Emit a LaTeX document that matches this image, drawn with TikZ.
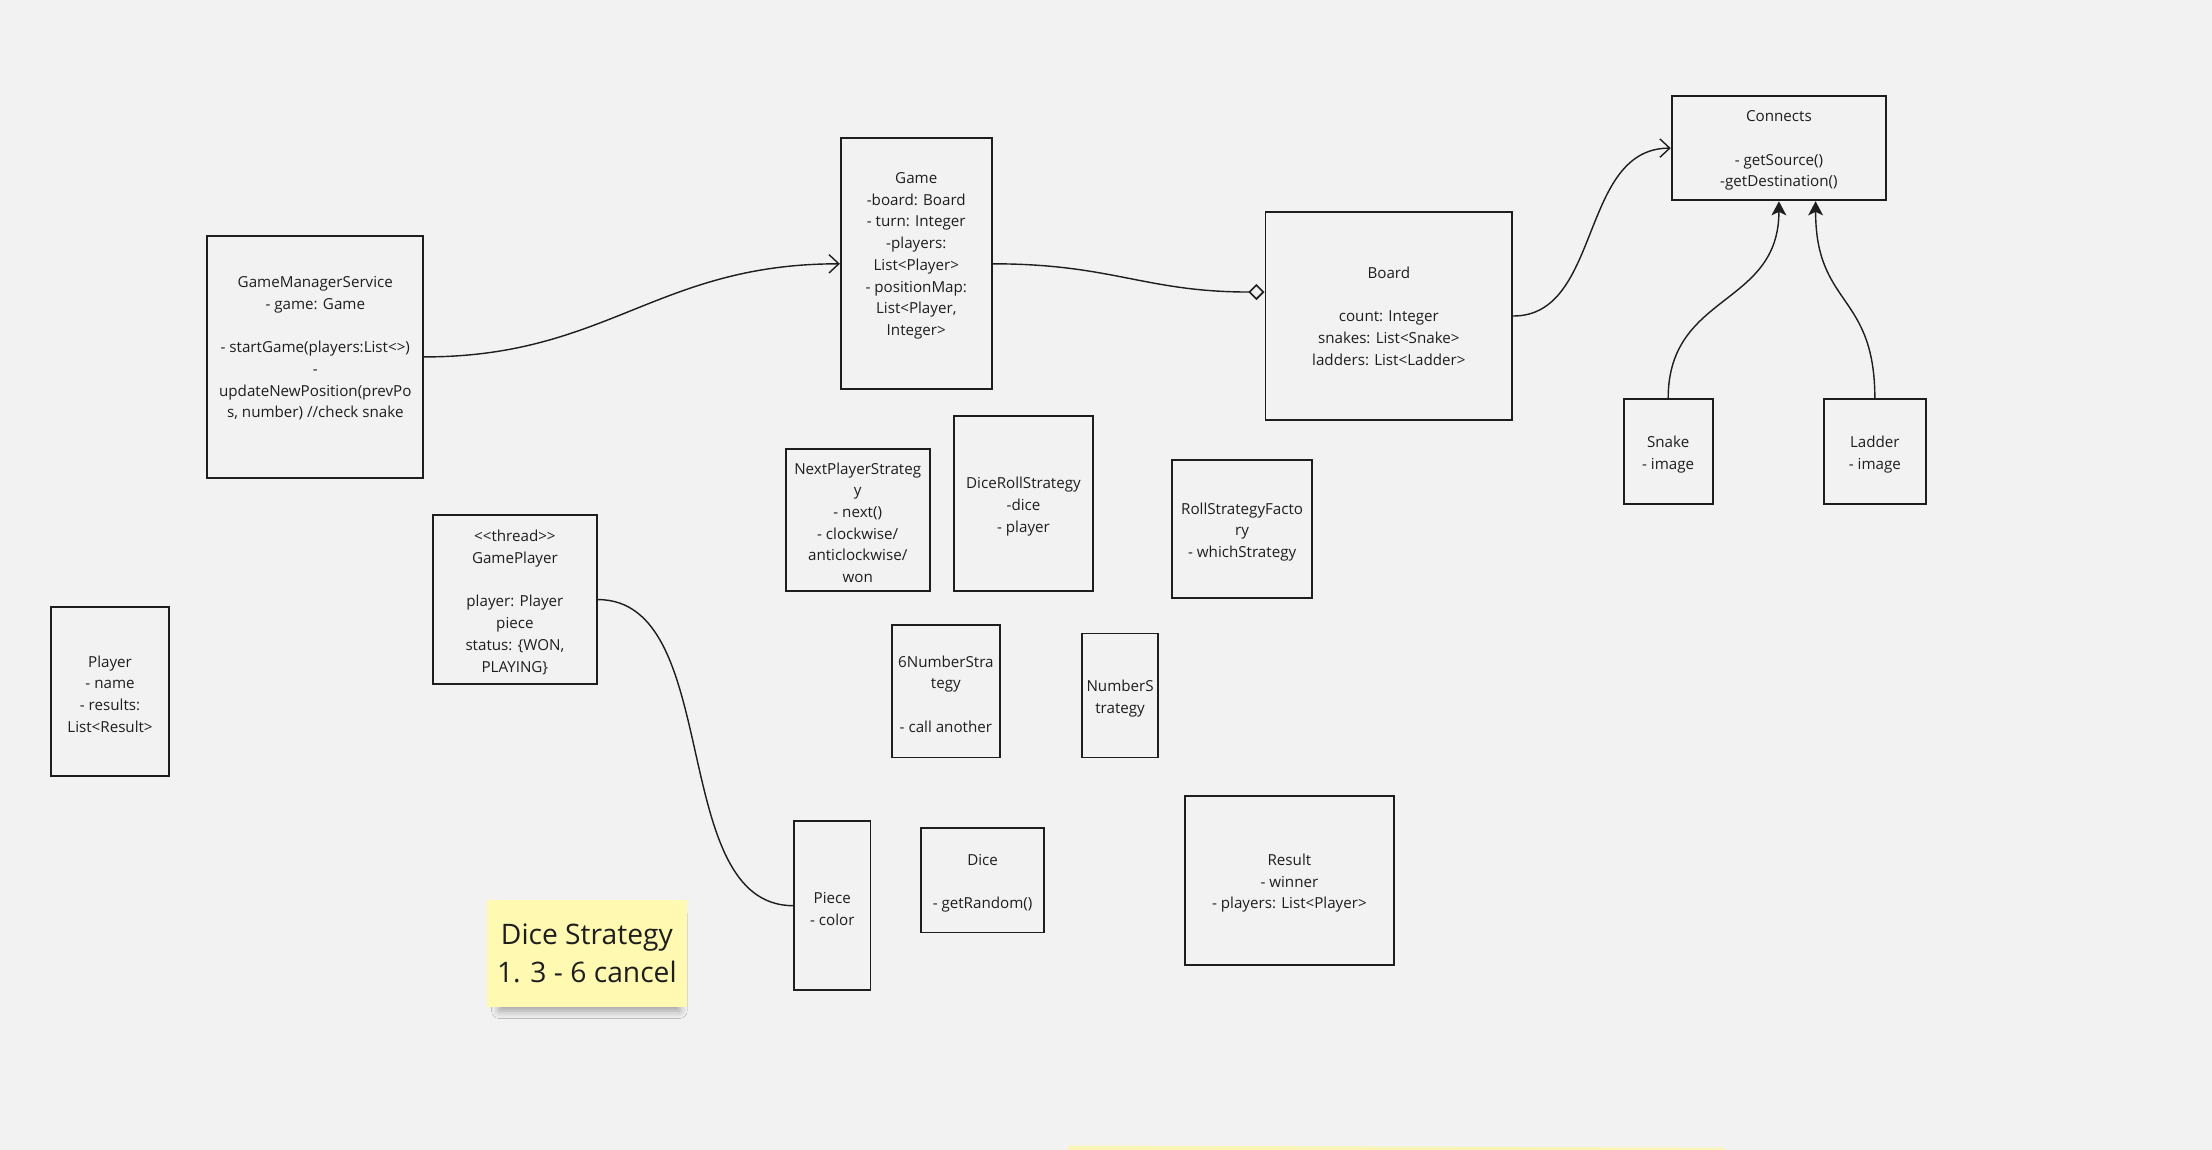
\documentclass[tikz,border=0pt]{standalone}
\usepackage{fontspec}
\setmainfont{Open Sans}
\usetikzlibrary{arrows.meta,shadows.blur}
\definecolor{bg}{HTML}{F2F2F2}
\definecolor{ink}{HTML}{1E1E1E}
\definecolor{stickyfill}{HTML}{FFF9B1}
\definecolor{stripfill}{HTML}{FAF5B6}
\tikzset{
  umlbox/.style={draw=ink, line width=1.3pt, align=center, inner sep=0pt, text=ink,
    font=\fontsize{10.75}{15.4}\selectfont},
  conn/.style={draw=ink, line width=1pt},
  openhead/.style={-{Straight Barb[length=7pt,width=13pt,line width=1pt]}},
  filledhead/.style={-{Stealth[length=10pt,width=10.5pt,inset=2.5pt]}},
  aggr/.style={-{Diamond[open,length=11.5pt,width=11.5pt,line width=1.2pt]}},
  stickynote/.style={fill=stickyfill, align=center, inner sep=0pt, text=ink,
    font=\fontsize{20}{27}\selectfont,
    blur shadow={shadow xshift=2pt, shadow yshift=-7pt, shadow scale=0.9, shadow opacity=35, shadow blur radius=6pt}}
}
\begin{document}
\begin{tikzpicture}[x=1pt,y=-1pt]
\fill[bg] (0,0) rectangle (1568,815);
\useasboundingbox (0,0) rectangle (1568,815);

\node[umlbox, minimum width=153pt, minimum height=172pt] (gms) at (223.5,253)
  {GameManagerService\\ - game: Game\\ \strut\\ - startGame(players:List<>)\\ -\\ updateNewPosition(prevPo\\ s, number) //check snake\\[-6pt] \strut};
\node[umlbox, minimum width=107pt, minimum height=178pt] (game) at (649.5,187)
  {Game\\ -board: Board\\ - turn: Integer\\ -players:\\ List<Player>\\ - positionMap:\\ List<Player,\\ Integer>\\[-6pt] \strut};
\node[umlbox, minimum width=175pt, minimum height=148pt] (board) at (984.5,224)
  {Board\\ \strut\\ count: Integer\\ snakes: List<Snake>\\ ladders: List<Ladder>};
\node[umlbox, minimum width=152pt, minimum height=74pt] (connects) at (1261,105)
  {\strut\\[-15pt] Connects\\ \strut\\ - getSource()\\ -getDestination()};
\node[umlbox, minimum width=63pt, minimum height=74pt] (snake) at (1182.5,320)
  {\strut\\[-14pt] Snake\\ - image};
\node[umlbox, minimum width=72pt, minimum height=74pt] (ladder) at (1329,320)
  {\strut\\[-14pt] Ladder\\ - image};
\node[umlbox, minimum width=102pt, minimum height=101pt] (nps) at (608,368.5)
  {\strut\\[-14pt] NextPlayerStrateg\\ y\\ - next()\\ - clockwise/\\ anticlockwise/\\ won};
\node[umlbox, minimum width=99pt, minimum height=124pt] (drs) at (725.5,357)
  {\strut\\[-14pt] DiceRollStrategy\\ -dice\\ - player};
\node[umlbox, minimum width=99pt, minimum height=98pt] (rsf) at (880.5,375)
  {\strut\\[-14pt] RollStrategyFacto\\ ry\\ - whichStrategy};
\node[umlbox, minimum width=77pt, minimum height=94pt] (six) at (670.5,490)
  {\strut\\[-14pt] 6NumberStra\\ tegy\\ \strut\\ - call another};
\node[umlbox, minimum width=54pt, minimum height=88pt] (nums) at (794,493)
  {\strut\\[-14pt] NumberS\\ trategy};
\node[umlbox, minimum width=116pt, minimum height=120pt] (gp) at (365,425)
  {\strut\\[-14pt] <{}<thread>{}>\\ GamePlayer\\ \strut\\ player: Player\\ piece\\ status: \{WON,\\ PLAYING\}};
\node[umlbox, minimum width=84pt, minimum height=120pt] (player) at (78,490)
  {\strut\\[-14pt] Player\\ - name\\ - results:\\ List<Result>};
\node[umlbox, minimum width=54pt, minimum height=120pt] (piece) at (590,642)
  {\strut\\[-14pt] Piece\\ - color};
\node[umlbox, minimum width=87pt, minimum height=74pt] (dice) at (696.5,624)
  {\strut\\[-14pt] Dice\\ \strut\\ - getRandom()};
\node[umlbox, minimum width=148pt, minimum height=120pt] (result) at (914,624)
  {\strut\\[-14pt] Result\\ - winner\\ - players: List<Player>};

\node[stickynote, minimum width=142pt, minimum height=76pt] (note) at (416,676)
  {Dice Strategy\\ 1. 3 - 6 cancel};

\fill[stripfill] (757,812) -- (1222,813.5) -- (1222,816) -- (757,816) -- cycle;

\draw[conn, openhead] (gms.east) .. controls +(130,0) and +(-130,0) .. (game.west);
\draw[conn, aggr] (game.east) .. controls +(85,0) and +(-85,0) .. ([yshift=17pt]board.west);
\draw[conn, openhead] (board.east) .. controls +(63,0) and +(-65,0) .. (connects.west);
\draw[conn, filledhead] (snake.north) .. controls +(0,-75) and +(0,75) .. (connects.south);
\draw[conn, filledhead] (ladder.north) .. controls +(0,-75) and +(0,75) .. ([xshift=26pt]connects.south);
\draw[conn] (gp.east) .. controls +(90,0) and +(-90,0) .. (piece.west);
\end{tikzpicture}
\end{document}
